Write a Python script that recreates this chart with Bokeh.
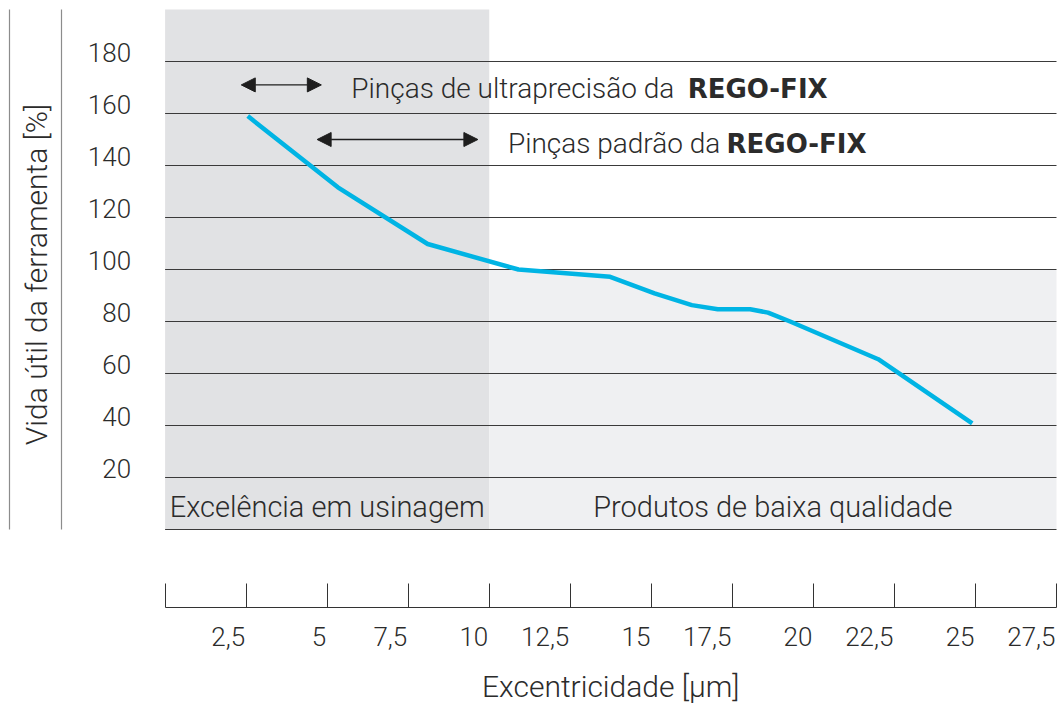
import math
from bokeh.plotting import figure
from bokeh.models import (Range1d, LinearAxis, FixedTicker, CustomJSTickFormatter,
                          ColumnDataSource, LabelSet, Arrow, NormalHead)
from bokeh.core.properties import value
from bokeh.embed import file_html
from bokeh.resources import INLINE

# ---------------- data ----------------
excentricidade = [2.55, 5.33, 8.10, 10.9, 13.73, 15.1, 16.25, 17.05, 18.05, 18.6, 19.3, 22.0, 24.9]
vida_util = [159, 131.6, 109.8, 100, 97.2, 90.8, 86.3, 84.7, 84.7, 83.4, 79.9, 65.5, 40.8]

x_ticks = [0, 2.5, 5, 7.5, 10, 12.5, 15, 17.5, 20, 22.5, 25, 27.5]
x_tick_labels = ["2,5", "5", "7,5", "10", "12,5", "15", "17,5", "20", "22,5", "25", "27,5"]
y_grid = [0, 20, 40, 60, 80, 100, 120, 140, 160, 180]
y_tick_labels = ["20", "40", "60", "80", "100", "120", "140", "160", "180"]
y_bounds = (0, 200)

region_names = ["Excelência em usinagem", "Produtos de baixa qualidade"]
region_start = [0, 10]
region_end = [10, 27.5]
region_top = [200, 100]

range_names = ["Pinças de ultraprecisão da", "Pinças padrão da"]
range_brand = ["REGO-FIX", "REGO-FIX"]
range_start = [2.35, 4.69]
range_end = [4.82, 9.65]
range_level = [171, 150]

x_title = "Excentricidade [µm]"
y_title = "Vida útil da ferramenta [%]"

# ---------------- layout / style ----------------
W, H = 1058, 705
X0_PX, PX_PER_X = 164.6, 32.415      # pixel column of x = 0, pixels per µm
Y0_PX, PX_PER_Y = 529.0, 2.6         # pixel row of y = 0, pixels per %
def xv(px):
    return (px - X0_PX) / PX_PER_X
def yv(py):
    return (Y0_PX - py) / PX_PER_Y

FONT = "Roboto Light, Roboto"
BOLD_FONT = "DejaVu Sans"
TXT = "#2b2b2b"
brand_x = [16.12, 17.32]   # where the bold brand name begins
AXIS_Y = -30               # level of the x axis rule

p = figure(width=W, height=H, output_backend="svg", toolbar_location=None,
           x_range=Range1d(xv(0), xv(W)), y_range=Range1d(yv(H), yv(0)),
           y_axis_type=None, min_border=0,
           background_fill_color="white", border_fill_color="white",
           outline_line_color=None)
p.grid.visible = False

# shaded regions
reg = ColumnDataSource(dict(name=region_names, left=region_start, right=region_end,
                            top=region_top,
                            mid=[(a + b) / 2 for a, b in zip(region_start, region_end)],
                            color=["#e1e2e4", "#eff0f2"]))
p.quad(left="left", right="right", bottom=y_bounds[0], top="top", fill_color="color",
       line_color=None, source=reg)

# horizontal grid lines
p.segment(x0=x_ticks[0], x1=x_ticks[-1], y0=y_grid, y1=y_grid,
          line_color="#3a3a3a", line_width=1)

# curve
p.line(excentricidade, vida_util, line_color="#00b4e4", line_width=4.5, line_join="round")

# region labels (sitting in the lowest band)
p.add_layout(LabelSet(x="mid", y=y_bounds[0], text="name", source=reg, y_offset=13,
                      text_align="center", text_baseline="alphabetic",
                      text_font=value(FONT), text_font_size="29px", text_color=TXT))

# y tick labels (sitting on each grid line)
ysrc = ColumnDataSource(dict(y=y_grid[1:], t=y_tick_labels))
p.add_layout(LabelSet(x=x_ticks[0], y="y", text="t", source=ysrc, x_offset=-34, y_offset=0,
                      text_align="right", text_baseline="alphabetic",
                      text_font=value(FONT), text_font_size="26px", text_color=TXT))

# x tick labels (right aligned to their tick, below the axis rule)
xsrc = ColumnDataSource(dict(x=x_ticks[1:], t=x_tick_labels))
p.add_layout(LabelSet(x="x", y=AXIS_Y, text="t", source=xsrc, x_offset=-1, y_offset=-38,
                      text_align="right", text_baseline="alphabetic",
                      text_font=value(FONT), text_font_size="26px", text_color=TXT))

# range arrows and their texts
rsrc = ColumnDataSource(dict(x0=range_start, x1=range_end, y=range_level,
                             name=range_names, brand=range_brand, bx=brand_x))
head = dict(size=14, fill_color="#1e1e1e", line_color="#1e1e1e")
p.add_layout(Arrow(x_start="x0", x_end="x1", y_start="y", y_end="y", source=rsrc,
                   start=NormalHead(**head), end=NormalHead(**head),
                   line_color="#1e1e1e", line_width=1.3))
p.add_layout(LabelSet(x="x1", y="y", text="name", source=rsrc, x_offset=30, y_offset=-13,
                      text_align="left", text_baseline="alphabetic",
                      text_font=value(FONT), text_font_size="28px", text_color=TXT))
p.add_layout(LabelSet(x="bx", y="y", text="brand", source=rsrc, x_offset=0, y_offset=-13,
                      text_align="left", text_baseline="alphabetic",
                      text_font=value(BOLD_FONT), text_font_style="bold",
                      text_font_size="26px", text_color=TXT))

# axis titles
tsrc = ColumnDataSource(dict(x=[(x_ticks[0] + x_ticks[-1]) / 2], y=[AXIS_Y], t=[x_title]))
p.add_layout(LabelSet(x="x", y="y", text="t", source=tsrc, y_offset=-79,
                      text_align="center", text_baseline="middle",
                      text_font=value(FONT), text_font_size="30px", text_color=TXT))
ysrc2 = ColumnDataSource(dict(x=[x_ticks[0]], y=[(y_bounds[0] + y_bounds[1]) / 2], t=[y_title]))
p.add_layout(LabelSet(x="x", y="y", text="t", source=ysrc2, x_offset=-129, y_offset=-5,
                      angle=math.pi / 2,
                      text_align="center", text_baseline="middle",
                      text_font=value(FONT), text_font_size="30px", text_color=TXT))

# x axis rule with upward ticks
xa = p.xaxis[0]
xa.fixed_location = AXIS_Y
xa.ticker = FixedTicker(ticks=x_ticks)
xa.bounds = (x_ticks[0], x_ticks[-1])
xa.formatter = CustomJSTickFormatter(code="return ''")
xa.major_tick_in = 24
xa.major_tick_out = 0
xa.minor_tick_line_color = None
xa.axis_line_color = "#333333"
xa.major_tick_line_color = "#333333"
xa.major_label_standoff = 0

# the two vertical rules left of the chart
empty = dict(ticker=FixedTicker(ticks=[]), major_tick_in=0, major_tick_out=0,
             minor_tick_in=0, minor_tick_out=0,
             formatter=CustomJSTickFormatter(code="return ''"),
             bounds=y_bounds, axis_line_color="#8c8c8c", axis_line_width=1.2)
p.add_layout(LinearAxis(fixed_location=xv(61), **empty), "left")
p.add_layout(LinearAxis(fixed_location=xv(9), **empty), "left")

open("out.html", "w").write(file_html(p, INLINE))
